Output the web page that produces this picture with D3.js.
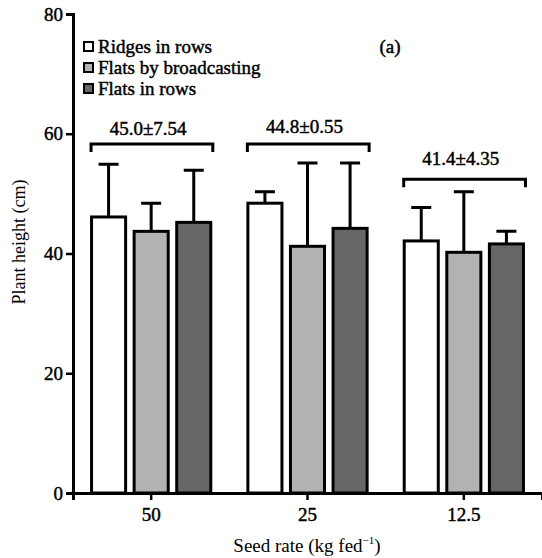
<!DOCTYPE html>
<html>
<head>
<meta charset="utf-8">
<script src="https://d3js.org/d3.v7.min.js"></script>
<style>
  body { margin: 0; background: #fff; }
  svg { display: block; }
  .heavy { stroke: #000; stroke-width: 0.45px; }
</style>
</head>
<body>
<div id="chart"></div>
<script>
// data
const seedRates = ["50", "25", "12.5"];
const methods = ["Ridges in rows", "Flats by broadcasting", "Flats in rows"];
const ridgesInRows = [46.1, 48.4, 42.1];
const ridgesErr = [8.8, 1.9, 5.6];
const flatsBroadcast = [43.7, 41.2, 40.2];
const flatsBroadcastErr = [4.7, 13.9, 10.1];
const flatsInRows = [45.2, 44.2, 41.6];
const flatsInRowsErr = [8.7, 10.9, 2.1];
const groupLabels = ["45.0\u00b17.54", "44.8\u00b10.55", "41.4\u00b14.35"];
const bracketLevels = [58.3, 58.3, 52.4];
const labelLevels = [59.8, 60.1, 54.8];
const yTicks = [0, 20, 40, 60, 80];

const colors = ["#ffffff", "#b2b2b2", "#666666"];
const serif = "'Liberation Serif', 'Times New Roman', serif";

const width = 542, height = 558;
const margin = { top: 14, right: 0, bottom: 65, left: 73 };

const svg = d3.select("#chart").append("svg")
    .attr("width", width)
    .attr("height", height)
    .attr("font-family", serif);

const values = [ridgesInRows, flatsBroadcast, flatsInRows];
const errs = [ridgesErr, flatsBroadcastErr, flatsInRowsErr];
const data = seedRates.map((r, i) => ({
    rate: r,
    bars: methods.map((m, j) => ({ method: m, value: values[j][i], err: errs[j][i], color: colors[j] }))
}));

const x0 = d3.scaleBand()
    .domain(seedRates)
    .range([margin.left, width - margin.right])
    .paddingInner(0.21)
    .paddingOuter(0.105);

const x1 = d3.scaleBand()
    .domain(methods)
    .range([0, x0.bandwidth()])
    .paddingInner(0.2)
    .paddingOuter(0.05);

const y = d3.scaleLinear()
    .domain([0, 80])
    .range([height - margin.bottom, margin.top]);

// bars
const groups = svg.selectAll(".group")
    .data(data)
    .enter().append("g")
    .attr("class", "group")
    .attr("transform", d => `translate(${x0(d.rate)},0)`);

// error bars (upper only)
groups.selectAll(".err")
    .data(d => d.bars)
    .enter().append("path")
    .attr("class", "err")
    .attr("fill", "none")
    .attr("stroke", "#000")
    .attr("stroke-width", 3)
    .attr("d", d => {
        const cx = x1(d.method) + x1.bandwidth() / 2;
        const top = y(d.value + d.err);
        return `M${cx},${y(d.value)}V${top}M${cx - 10},${top}H${cx + 10}`;
    });

groups.selectAll(".bar")
    .data(d => d.bars)
    .enter().append("rect")
    .attr("class", "bar")
    .attr("x", d => x1(d.method))
    .attr("y", d => y(d.value))
    .attr("width", x1.bandwidth())
    .attr("height", d => y(0) - y(d.value))
    .attr("fill", d => d.color)
    .attr("stroke", "#000")
    .attr("stroke-width", 3);

// group brackets with mean ± sd
groups.append("path")
    .attr("fill", "none")
    .attr("stroke", "#000")
    .attr("stroke-width", 3)
    .attr("d", (d, i) => {
        const by = y(bracketLevels[i]);
        const left = x1(methods[0]) - 0.5, right = x1(methods[2]) + x1.bandwidth() + 2;
        return `M${left},${by + 8}V${by}H${right}V${by + 8}`;
    });

groups.append("text")
    .attr("class", "heavy")
    .attr("x", x0.bandwidth() / 2 - 3)
    .attr("y", (d, i) => y(labelLevels[i]))
    .attr("text-anchor", "middle")
    .attr("font-size", 19)
    .text((d, i) => groupLabels[i]);

// axes
const xAxis = svg.append("g")
    .attr("transform", `translate(0,${y(0)})`)
    .call(d3.axisBottom(x0).tickSizeOuter(0).tickSize(7).tickPadding(8));

const yAxis = svg.append("g")
    .attr("transform", `translate(${margin.left},0)`)
    .call(d3.axisLeft(y).tickValues(yTicks).tickSizeOuter(0).tickSize(7).tickPadding(3));

[xAxis, yAxis].forEach(a => {
    a.attr("font-family", serif).attr("font-size", 19);
    a.select(".domain").attr("stroke-width", 3);
    a.selectAll(".tick line").attr("stroke-width", 2.5);
    a.selectAll(".tick text")
        .attr("class", "heavy")
        .attr("fill", "#000");
});

// axis titles
const xTitle = svg.append("text")
    .attr("x", 307)
    .attr("y", 552)
    .attr("text-anchor", "middle")
    .attr("font-size", 19);
xTitle.append("tspan").text("Seed rate (kg fed");
xTitle.append("tspan").attr("dy", -8).attr("font-size", 11).text("\u22121");
xTitle.append("tspan").attr("dy", 8).text(")");

svg.append("text")
    .attr("transform", "translate(25,242) rotate(-90)")
    .attr("text-anchor", "middle")
    .attr("font-size", 18)
    .text("Plant height (cm)");

// legend
const legend = svg.append("g")
    .attr("transform", "translate(84,40)");

legend.selectAll(".item")
    .data(methods)
    .enter().append("g")
    .attr("class", "item")
    .attr("transform", (d, i) => `translate(0,${i * 21})`)
    .each(function (d, i) {
        const g = d3.select(this);
        g.append("rect")
            .attr("x", 0).attr("y", 2)
            .attr("width", 9).attr("height", 9)
            .attr("fill", colors[i])
            .attr("stroke", "#000")
            .attr("stroke-width", 2);
        g.append("text")
            .attr("class", "heavy")
            .attr("x", 14)
            .attr("y", 13)
            .attr("font-size", 19)
            .text(d);
    });

svg.append("text")
    .attr("class", "heavy")
    .attr("x", 390)
    .attr("y", 53)
    .attr("text-anchor", "middle")
    .attr("font-size", 19)
    .text("(a)");
</script>
</body>
</html>
